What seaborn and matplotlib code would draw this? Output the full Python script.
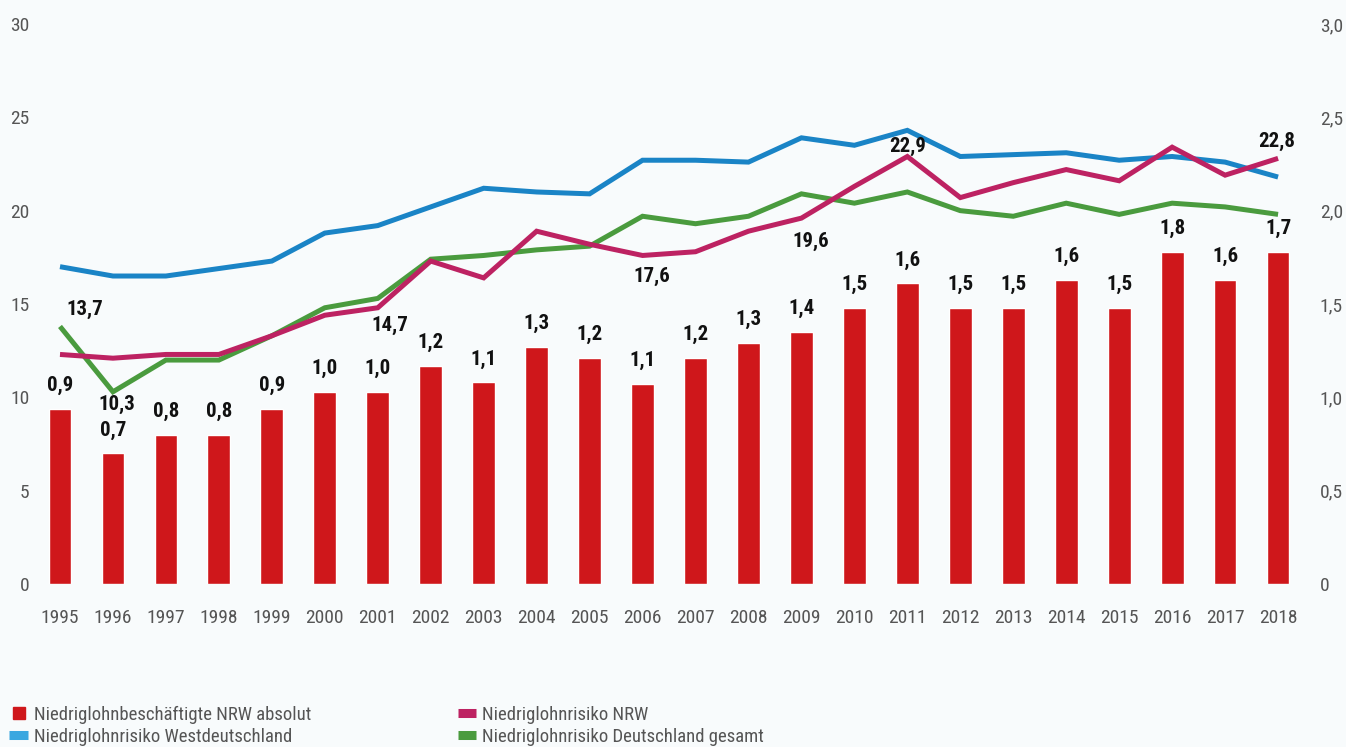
import numpy as np
import pandas as pd
import matplotlib
matplotlib.use("Agg")
import matplotlib.pyplot as plt
import seaborn as sns
from matplotlib.lines import Line2D
from matplotlib import font_manager as fm

# --- data ---
years = [str(y) for y in range(1995, 2019)]

# Niedriglohnbeschäftigte NRW absolut (Mio., right axis)
bar_values = [0.94, 0.70, 0.80, 0.80, 0.94, 1.03, 1.03, 1.17, 1.08, 1.27, 1.21, 1.07,
              1.21, 1.29, 1.35, 1.48, 1.61, 1.48, 1.48, 1.63, 1.48, 1.78, 1.63, 1.78]
bar_labels = ['0,9', '0,7', '0,8', '0,8', '0,9', '1,0', '1,0', '1,2', '1,1', '1,3', '1,2', '1,1',
              '1,2', '1,3', '1,4', '1,5', '1,6', '1,5', '1,5', '1,6', '1,5', '1,8', '1,6', '1,7']

# risk lines (%, left axis)
nrw = [12.3, 12.1, 12.3, 12.3, 13.3, 14.4, 14.8, 17.3, 16.4, 18.9, 18.2, 17.6,
       17.8, 18.9, 19.6, 21.3, 22.9, 20.7, 21.5, 22.2, 21.6, 23.4, 21.9, 22.8]
west = [17.0, 16.5, 16.5, 16.9, 17.3, 18.8, 19.2, 20.2, 21.2, 21.0, 20.9, 22.7,
        22.7, 22.6, 23.9, 23.5, 24.3, 22.9, 23.0, 23.1, 22.7, 22.9, 22.6, 21.8]
gesamt = [13.8, 10.3, 12.0, 12.0, 13.3, 14.8, 15.3, 17.4, 17.6, 17.9, 18.1, 19.7,
          19.3, 19.7, 20.9, 20.4, 21.0, 20.0, 19.7, 20.4, 19.8, 20.4, 20.2, 19.8]

# value labels on the lines
line_label_years = ['1995', '1996', '2001', '2006', '2009', '2011', '2018']
line_label_series = ['gesamt', 'gesamt', 'nrw', 'nrw', 'nrw', 'nrw', 'nrw']
line_label_texts = ['13,7', '10,3', '14,7', '17,6', '19,6', '22,9', '22,8']

left_ticks = [0, 5, 10, 15, 20, 25, 30]
right_ticks = [0, 0.5, 1.0, 1.5, 2.0, 2.5, 3.0]
right_tick_labels = ['0', '0,5', '1,0', '1,5', '2,0', '2,5', '3,0']

legend_names = ['Niedriglohnbeschäftigte NRW absolut', 'Niedriglohnrisiko NRW',
                'Niedriglohnrisiko Westdeutschland', 'Niedriglohnrisiko Deutschland gesamt']

# --- styling ---
RED = '#cf171b'
MAGENTA = '#bd2262'
BLUE = '#1a84c6'
BLUE_LEG = '#3aa7e0'
GREEN = '#4a9b3e'
BG = '#f8fbfc'
TICK = '#555555'

sns.set_style("white")

# pick a narrow font if one is around (reference uses a condensed face)
fonts = fm.fontManager.ttflist
names = {f.name for f in fonts}
stretch = 'normal'
if 'Liberation Sans Narrow' in names:
    family = 'Liberation Sans Narrow'
elif 'Roboto Condensed' in names:
    family = 'Roboto Condensed'
elif any(f.name == 'DejaVu Sans' and 'ondensed' in str(f.stretch) for f in fonts):
    family = 'DejaVu Sans'
    stretch = 'condensed'
elif any(f.name == 'Open Sans' and 'ondensed' in str(f.stretch) for f in fonts):
    family = 'Open Sans'
    stretch = 'condensed'
else:
    family = 'Roboto'
plt.rcParams['font.family'] = [family, 'DejaVu Sans']
plt.rcParams['font.stretch'] = stretch
narrow = family != 'Roboto'
FS = 14 if narrow else 12.5
FS_VAL = 15 if narrow else 13.5
FS_LEG = 13.5 if narrow else 12

fig = plt.figure(figsize=(13.46, 7.47), dpi=100, facecolor=BG)
ax1 = fig.add_axes([0.0249, 0.218, 0.9443, 0.750])
ax2 = ax1.twinx()
ax1.set_zorder(ax2.get_zorder() + 1)
ax1.patch.set_visible(False)
ax2.set_facecolor(BG)

pos = np.arange(len(years))
df_bars = pd.DataFrame({'Jahr': pos, 'Wert': bar_values})
sns.barplot(data=df_bars, x='Jahr', y='Wert', ax=ax2, color=RED, width=0.43,
            saturation=1, native_scale=True)

df_lines = pd.DataFrame({'Jahr': pos, 'nrw': nrw, 'west': west, 'gesamt': gesamt})
for col, c in [('west', BLUE), ('gesamt', GREEN), ('nrw', MAGENTA)]:
    sns.lineplot(data=df_lines, x='Jahr', y=col, ax=ax1, color=c, linewidth=3.6,
                 solid_joinstyle='miter', solid_capstyle='butt')

# bar value labels
for x, v, t in zip(pos, bar_values, bar_labels):
    ax2.annotate(t, (x, v), xytext=(0, 10), textcoords='offset points',
                 ha='center', va='bottom', fontsize=FS_VAL, fontweight='bold', color='#111111')

# line value labels
offsets = [(18, 12), (3, -9), (9, -13), (7, -15), (7, -17), (0, 7), (-1, 12)]
for yr, s, t, off in zip(line_label_years, line_label_series, line_label_texts, offsets):
    i = years.index(yr)
    v = df_lines[s][i]
    ax1.annotate(t, (i, v), xytext=off, textcoords='offset points',
                 ha='center', va='center', fontsize=FS_VAL, fontweight='bold', color='#111111')

ax1.set_xlim(-0.5, len(years) - 0.5)
ax1.set_ylim(0, 30)
ax2.set_ylim(0, 3.0)
ax1.set_xticks(pos)
ax1.set_xticklabels(years)
ax1.set_yticks(left_ticks)
ax1.set_yticklabels([str(t) for t in left_ticks])
ax2.set_yticks(right_ticks)
ax2.set_yticklabels(right_tick_labels)
ax1.set_xlabel('')
ax1.set_ylabel('')
ax2.set_xlabel('')
ax2.set_ylabel('')

ax1.tick_params(axis='x', length=0, pad=18, labelsize=FS, labelcolor=TICK)
ax1.tick_params(axis='y', length=0, pad=3, labelsize=FS, labelcolor=TICK)
ax2.tick_params(axis='y', length=0, pad=11, labelsize=FS, labelcolor=TICK)
for a in (ax1, ax2):
    for sp in a.spines.values():
        sp.set_visible(False)
    a.grid(False)
for lab in ax2.get_yticklabels():
    lab.set_horizontalalignment('left')

# legend: two columns placed separately
col1 = [Line2D([], [], color=RED, marker='s', markersize=9, linestyle='none'),
        Line2D([], [], color=BLUE_LEG, linewidth=6.5, solid_capstyle='butt')]
col2 = [Line2D([], [], color=MAGENTA, linewidth=6.5, solid_capstyle='butt'),
        Line2D([], [], color=GREEN, linewidth=6.5, solid_capstyle='butt')]
leg_kw = dict(loc='upper left', frameon=False, fontsize=FS_LEG, handlelength=1.0,
              handletextpad=0.3, labelspacing=0.2, borderpad=0, borderaxespad=0,
              labelcolor=TICK)
fig.legend(handles=col1, labels=[legend_names[0], legend_names[2]],
           bbox_to_anchor=(0.007, 0.055), **leg_kw)
fig.legend(handles=col2, labels=[legend_names[1], legend_names[3]],
           bbox_to_anchor=(0.340, 0.055), **leg_kw)

fig.savefig('out.png', dpi=100, facecolor=BG)
